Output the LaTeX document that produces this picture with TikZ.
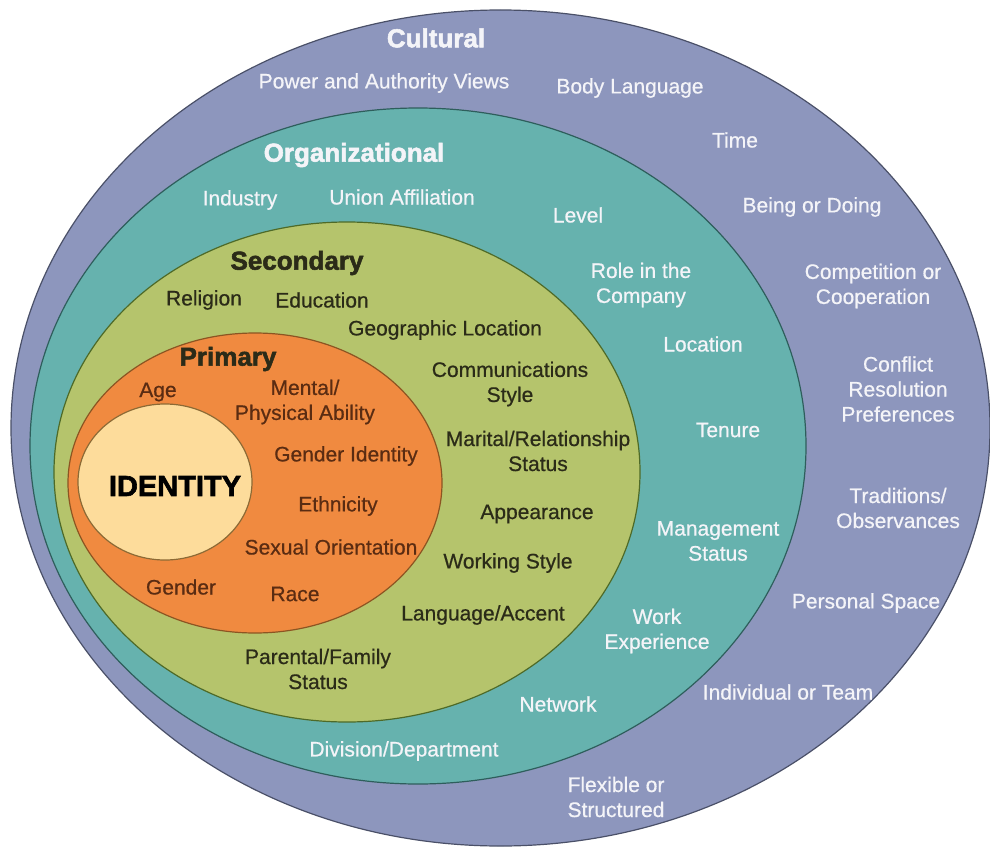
\documentclass[tikz,border=0pt]{standalone}
\usepackage{fontspec}
\setmainfont{Liberation Sans}
\newfontfamily\labelfont[FakeBold=0.6]{Liberation Sans}
\newfontfamily\heavyfont[FakeBold=2]{Liberation Sans Bold}
\definecolor{culturefill}{HTML}{8D96BD}
\definecolor{cultureline}{HTML}{4A5068}
\definecolor{orgfill}{HTML}{66B2AE}
\definecolor{orgline}{HTML}{2E5E5C}
\definecolor{secfill}{HTML}{B5C46C}
\definecolor{secline}{HTML}{4E6A28}
\definecolor{primfill}{HTML}{F08A40}
\definecolor{primline}{HTML}{8C5522}
\definecolor{idfill}{HTML}{FDDC9B}
\definecolor{idline}{HTML}{8C6A35}
\definecolor{labelwhite}{HTML}{F4F4F8}
\definecolor{labeldark}{HTML}{2B2B18}
\definecolor{labelbrown}{HTML}{5A2C12}
\tikzset{
  lbl/.style={inner sep=0pt,align=center,font=\labelfont\fontsize{21}{25}\selectfont},
  whitelbl/.style={lbl,text=labelwhite},
  darklbl/.style={lbl,text=labeldark},
  brownlbl/.style={lbl,text=labelbrown},
  heading/.style={inner sep=0pt,font=\heavyfont\fontsize{26}{30}\selectfont},
  ring/.style={line width=1.2pt}
}
\begin{document}
\begin{tikzpicture}[x=1pt,y=-1pt]
\useasboundingbox (0,0) rectangle (990,848);
\fill[white] (0,0) rectangle (990,848);
\draw[ring,draw=cultureline,fill=culturefill] (500.5,428) ellipse [x radius=489.5pt,y radius=418pt];
\draw[ring,draw=orgline,fill=orgfill] (418,446) ellipse [x radius=388pt,y radius=338pt];
\draw[ring,draw=secline,fill=secfill] (347,472) ellipse [x radius=293pt,y radius=250pt];
\draw[ring,draw=primline,fill=primfill] (255,483) ellipse [x radius=187pt,y radius=150pt];
\draw[ring,draw=idline,fill=idfill] (165,482) ellipse [x radius=87pt,y radius=78pt];

\node[heading,text=labelwhite] (cultural) at (436,38) {Cultural};
\node[whitelbl] (power) at (384,83) {Power and Authority Views};
\node[whitelbl] (body) at (630,88) {Body Language};
\node[whitelbl] (time) at (735,140) {Time};
\node[whitelbl] (being) at (812,207) {Being or Doing};
\node[whitelbl] (competition) at (873,286) {Competition or\\Cooperation};
\node[whitelbl] (conflict) at (898,389) {Conflict\\Resolution\\Preferences};
\node[whitelbl] (traditions) at (898,508) {Traditions/\\Observances};
\node[whitelbl] (space) at (866,603) {Personal Space};
\node[whitelbl] (team) at (788,692) {Individual or Team};
\node[whitelbl] (flexible) at (616,797) {Flexible or\\Structured};

\node[heading,text=labelwhite] (organizational) at (354,155) {Organizational};
\node[whitelbl] (industry) at (240,200) {Industry};
\node[whitelbl] (union) at (402,197) {Union Affiliation};
\node[whitelbl] (level) at (578,215) {Level};
\node[whitelbl] (role) at (641,285) {Role in the\\Company};
\node[whitelbl] (location) at (703,344) {Location};
\node[whitelbl] (tenure) at (728,430) {Tenure};
\node[whitelbl] (management) at (718,541) {Management\\Status};
\node[whitelbl] (work) at (657,631) {Work\\Experience};
\node[whitelbl] (network) at (558,704) {Network};
\node[whitelbl] (division) at (404,751) {Division/Department};

\node[heading,text=labeldark] (secondary) at (297,263) {Secondary};
\node[darklbl] (religion) at (204,300) {Religion};
\node[darklbl] (education) at (322,300) {Education};
\node[darklbl] (geographic) at (445,330) {Geographic Location};
\node[darklbl] (communications) at (510,384) {Communications\\Style};
\node[darklbl] (marital) at (538,451) {Marital/Relationship\\Status};
\node[darklbl] (appearance) at (537,514) {Appearance};
\node[darklbl] (working) at (508,563) {Working Style};
\node[darklbl] (language) at (483,615) {Language/Accent};
\node[darklbl] (parental) at (318,669) {Parental/Family\\Status};

\node[heading,text=labeldark] (primary) at (228,359) {Primary};
\node[brownlbl] (age) at (158,392) {Age};
\node[brownlbl] (mental) at (305,402) {Mental/\\Physical Ability};
\node[brownlbl] (genderid) at (346,456) {Gender Identity};
\node[brownlbl] (ethnicity) at (338,506) {Ethnicity};
\node[brownlbl] (sexual) at (331,547) {Sexual Orientation};
\node[brownlbl] (gender) at (181,587) {Gender};
\node[brownlbl] (race) at (295,594) {Race};
\node[heading,text=black,font=\heavyfont\fontsize{29}{33}\selectfont] (identity) at (175,486) {IDENTITY};
\end{tikzpicture}
\end{document}
